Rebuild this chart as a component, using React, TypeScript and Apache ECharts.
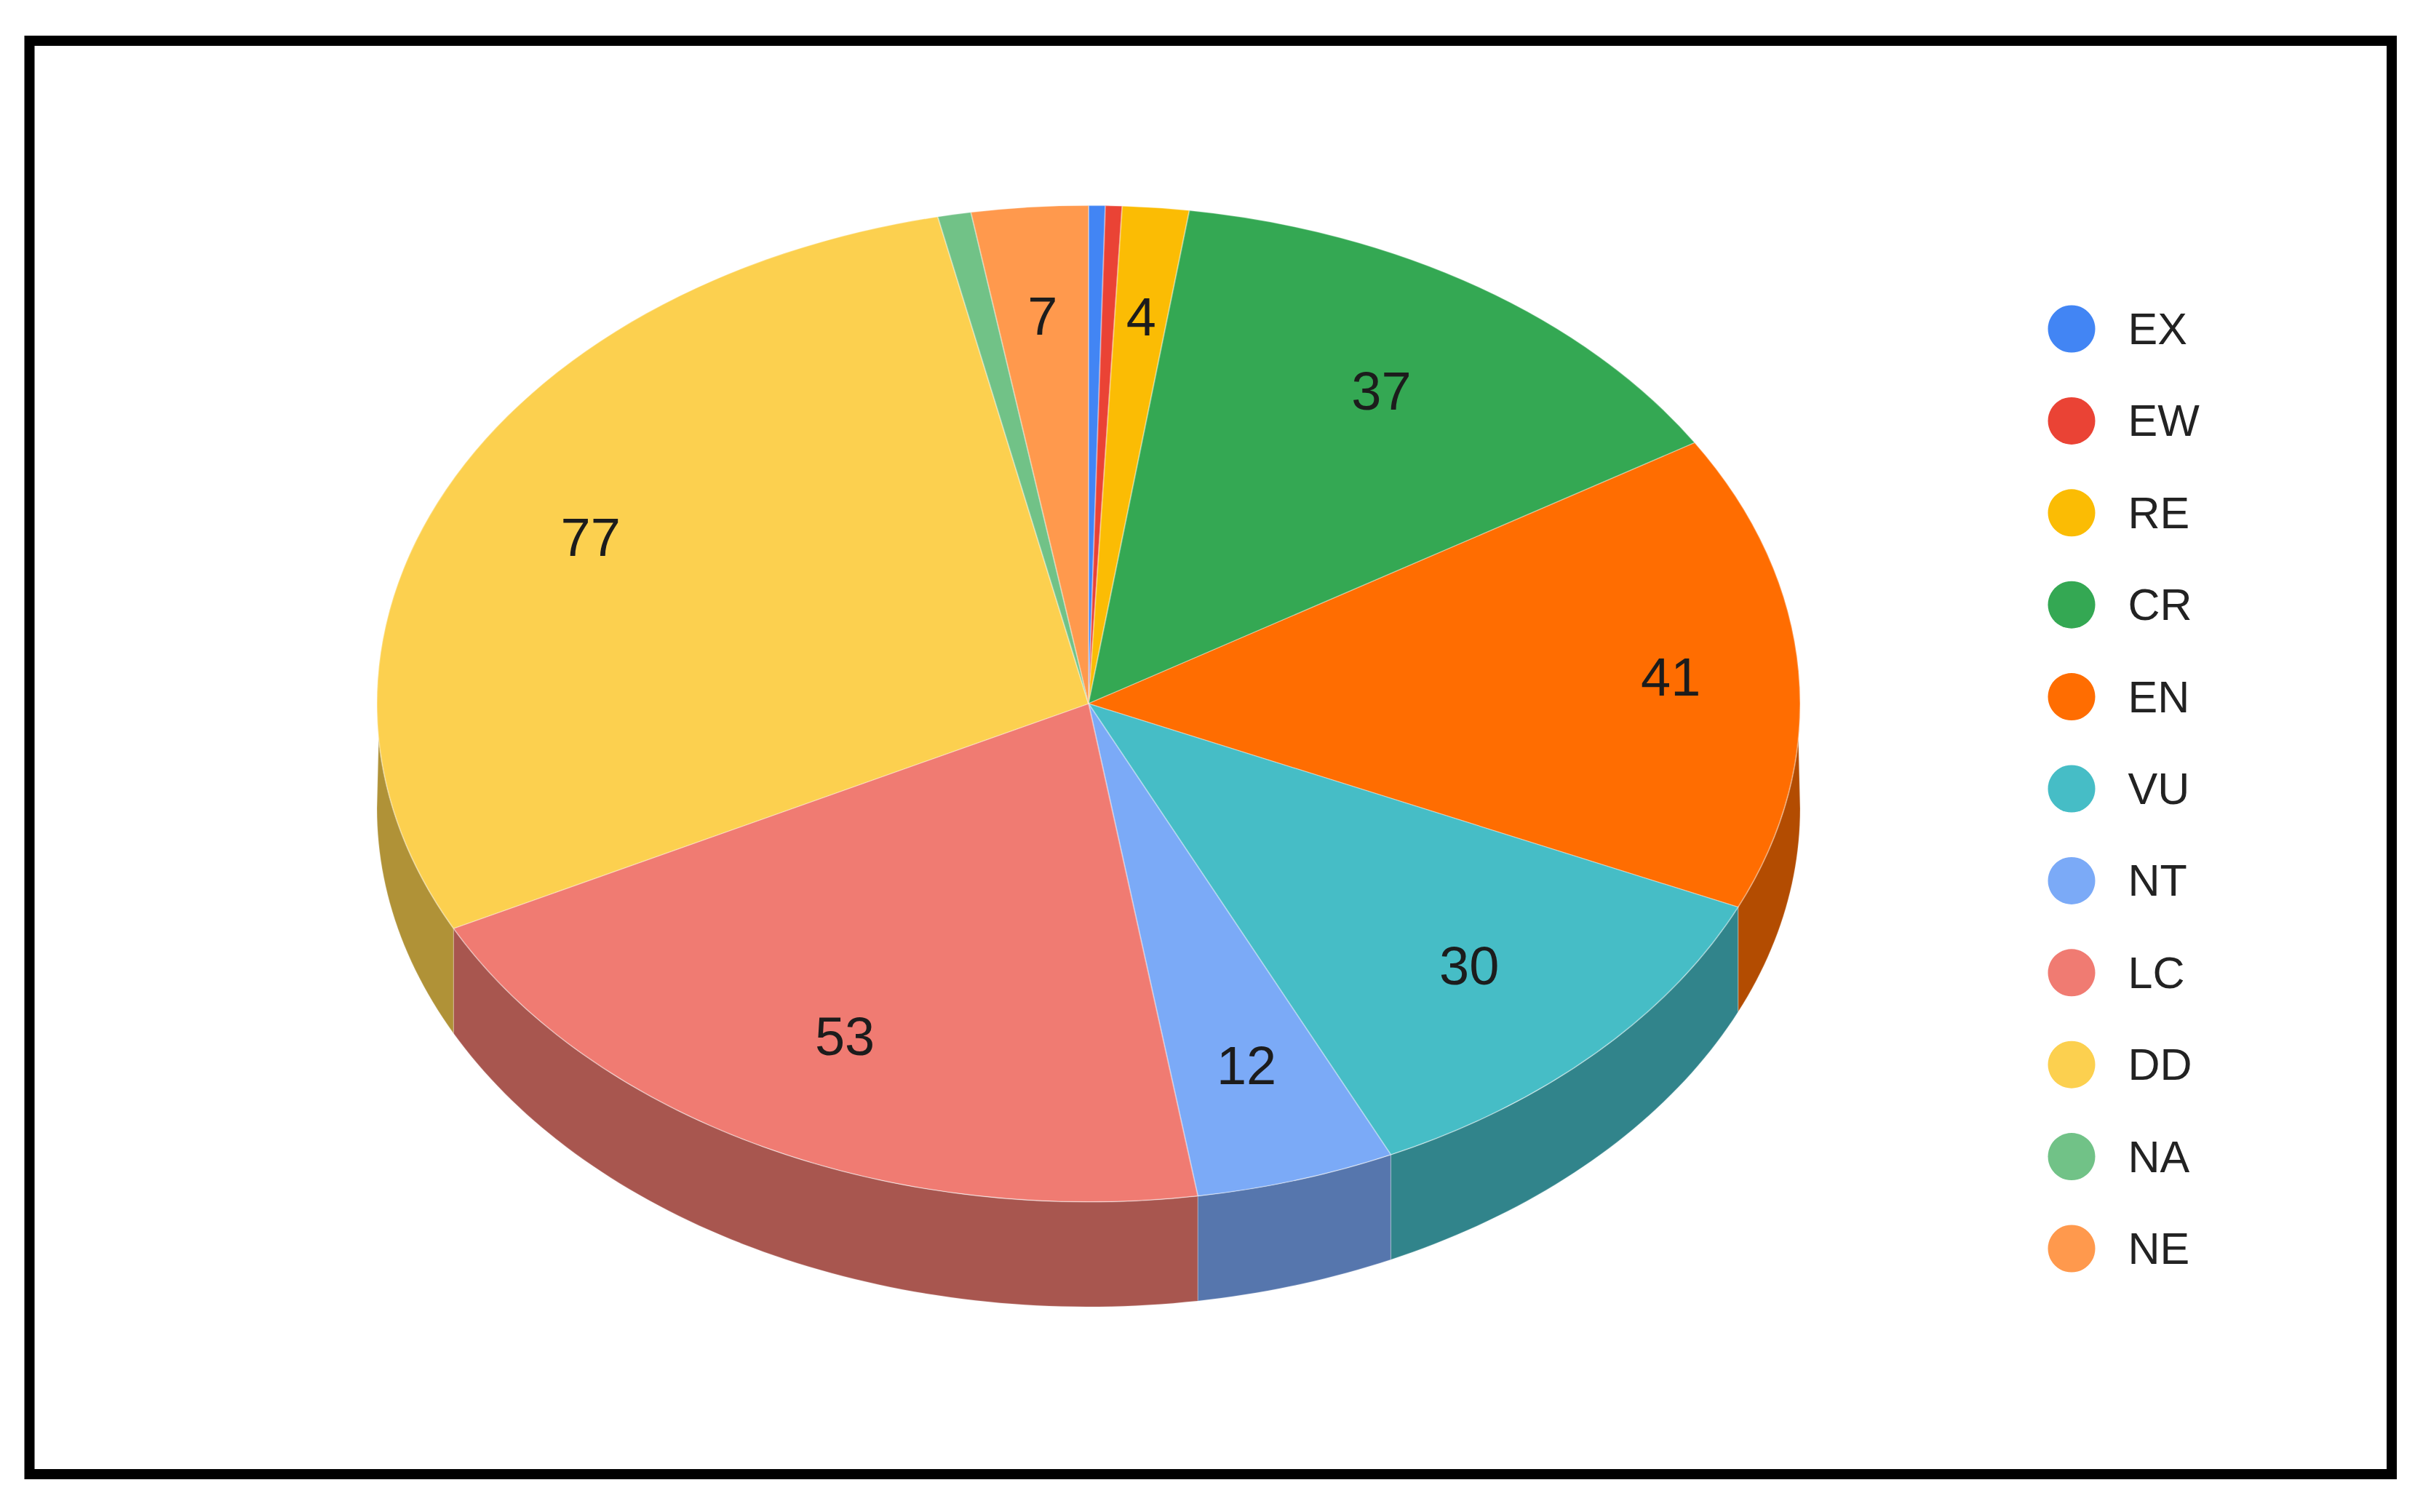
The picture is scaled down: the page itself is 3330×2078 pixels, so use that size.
import React, { useEffect, useRef } from "react";
import * as echarts from "echarts";

const categories = ["EX", "EW", "RE", "CR", "EN", "VU", "NT", "LC", "DD", "NA", "NE"];
const counts = [1, 1, 4, 37, 41, 30, 12, 53, 77, 2, 7];
const colors = ["#4285F4", "#EA4335", "#FBBC04", "#34A853", "#FF6D01", "#46BDC6", "#7BAAF7", "#F07B72", "#FCD04F", "#71C287", "#FF994D"];
const wallColors = ["#2E5DAB", "#A42F25", "#B08403", "#247639", "#B34C01", "#31848B", "#5676AD", "#A8564F", "#B09237", "#4F885F", "#B36B36"];
const showLabel = [false, false, true, true, true, true, true, true, true, false, true];
const labelRadius = [0, 0, 0.78, 0.75, 0.82, 0.75, 0.76, 0.75, 0.775, 0, 0.78];

const CX = 1496;
const CY = 967;
const RX = 978;
const RY = 685;
const DEPTH = 144;
const WALL_TIP = (4 * Math.PI) / 180;
const FONT = "Liberation Sans, Arial, sans-serif";

const total = counts.reduce((a, b) => a + b, 0);
const startOf = (i: number) => counts.slice(0, i).reduce((a, b) => a + b, 0);
const toAngle = (v: number) => (v / total) * Math.PI * 2;

function arc(from: number, to: number, dy: number) {
  const n = Math.max(2, Math.ceil(((to - from) * 180) / Math.PI));
  const pts: number[][] = [];
  for (let k = 0; k <= n; k++) {
    const t = from + ((to - from) * k) / n;
    pts.push([CX + RX * Math.sin(t), CY - RY * Math.cos(t) + dy]);
  }
  return pts;
}

function sliceRenderer(i: number) {
  return (_params: any, api: any) => {
    const value = api.value(0) as number;
    const a0 = toAngle(startOf(i));
    const a1 = a0 + toAngle(value);
    const children: any[] = [];

    // Side wall: only the part of the rim that faces the viewer (lower half).
    const w0 = Math.max(a0, Math.PI / 2);
    const w1 = Math.min(a1, (Math.PI * 3) / 2);
    if (w1 > w0) {
      const top = arc(Math.max(w0, Math.PI / 2 + WALL_TIP), Math.min(w1, (Math.PI * 3) / 2 - WALL_TIP), 0);
      const lower = arc(w0, w1, DEPTH).reverse();
      children.push({
        type: "polygon",
        shape: { points: top.concat(lower) },
        style: { fill: wallColors[i], stroke: "rgba(255,255,255,0.18)", lineWidth: 1.5 },
      });
    }

    children.push({
      type: "sector",
      x: CX,
      y: CY,
      scaleY: RY / RX,
      shape: { cx: 0, cy: 0, r0: 0, r: RX, startAngle: a0 - Math.PI / 2, endAngle: a1 - Math.PI / 2, clockwise: true },
      style: { fill: colors[i], stroke: "rgba(255,255,255,0.3)", lineWidth: 2 },
    });

    if (showLabel[i]) {
      const mid = (a0 + a1) / 2;
      children.push({
        type: "text",
        x: CX + RX * labelRadius[i] * Math.sin(mid),
        y: CY - RY * labelRadius[i] * Math.cos(mid),
        z2: 10,
        style: {
          text: String(value),
          fontFamily: FONT,
          fontSize: 74,
          fill: "#1c1c1c",
          align: "center",
          verticalAlign: "middle",
        },
      });
    }
    return { type: "group", children };
  };
}

export default function App() {
  const ref = useRef<HTMLDivElement>(null);
  useEffect(() => {
    const chart = echarts.init(ref.current!, undefined, { renderer: "svg" });
    chart.setOption({
      animation: false,
      backgroundColor: "#ffffff",
      legend: {
        orient: "vertical",
        left: 2814.5,
        top: 419.5,
        padding: 0,
        data: categories,
        icon: "circle",
        itemWidth: 65,
        itemHeight: 65,
        itemGap: 61.4,
        selectedMode: false,
        textStyle: { fontFamily: FONT, fontSize: 61, color: "#222222", padding: [0, 0, 0, 40] },
      },
      graphic: [
        {
          type: "rect",
          shape: { x: 40.5, y: 56, width: 3246.5, height: 1970 },
          style: { fill: "none", stroke: "#000000", lineWidth: 14 },
          silent: true,
        },
      ],
      series: categories.map((name, i) => ({
        type: "custom",
        name,
        coordinateSystem: "none",
        silent: true,
        itemStyle: { color: colors[i] },
        data: [[counts[i]]],
        renderItem: sliceRenderer(i),
      })),
    });
    return () => chart.dispose();
  }, []);
  return <div ref={ref} style={{ position: "absolute", left: 0, top: 0, width: 3330, height: 2078 }} />;
}
